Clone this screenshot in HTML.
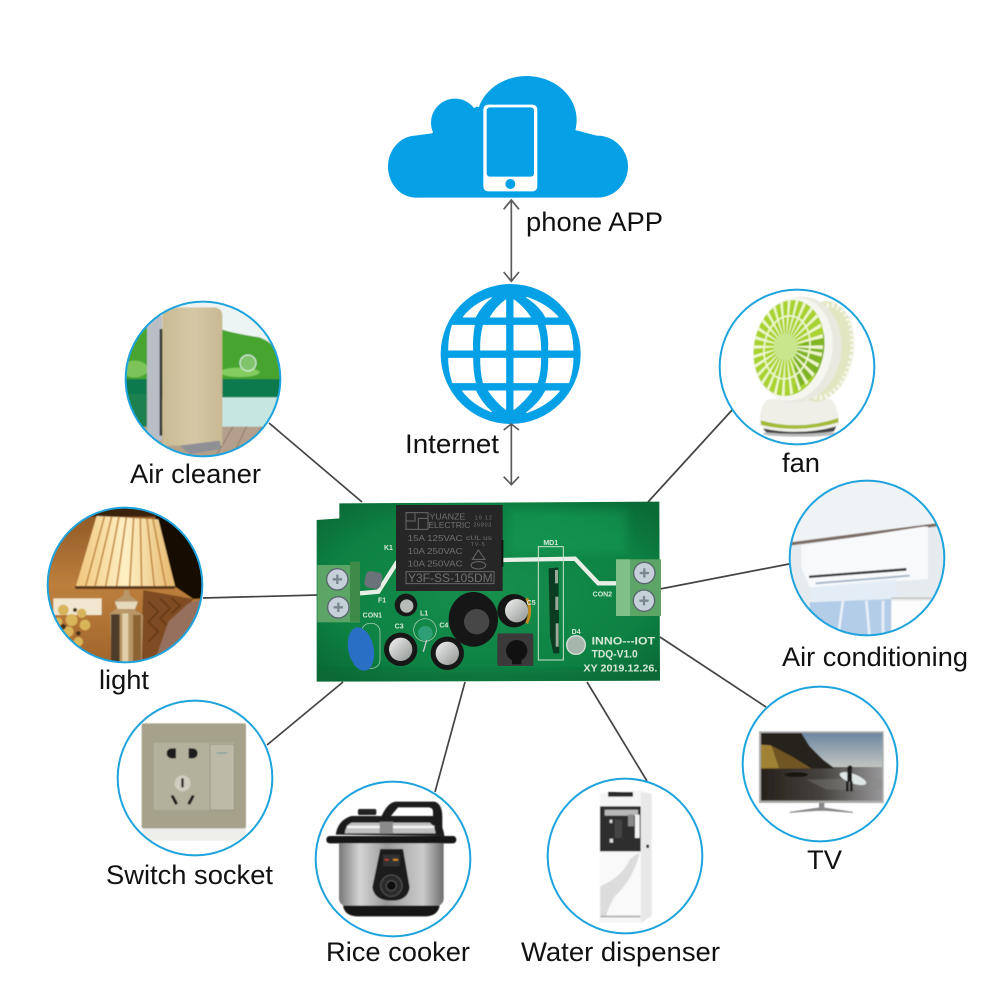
<!DOCTYPE html>
<html><head><meta charset="utf-8"><style>
html,body{margin:0;padding:0;background:#fff}
svg{display:block}
text{font-family:"Liberation Sans",sans-serif}
.l{font-size:27px;fill:#111}
.pt{font-family:"Liberation Mono",monospace;font-weight:bold;fill:#d8e8d8}
</style></head><body>
<svg width="1000" height="1000" viewBox="0 0 1000 1000" xmlns="http://www.w3.org/2000/svg">
<defs>
<filter id="soft" x="-5%" y="-5%" width="110%" height="110%"><feGaussianBlur stdDeviation="1.8"/></filter>
<filter id="soft2" x="-20%" y="-20%" width="140%" height="140%"><feGaussianBlur stdDeviation="14"/></filter>
<clipPath id="c"><circle cx="0" cy="0" r="232"/></clipPath>
<clipPath id="pcbclip"><polygon points="88,40 1048,35 1050,572 20,575 20,90 88,85"/></clipPath>
<clipPath id="fanclip"><ellipse cx="238" cy="205" rx="105" ry="145" transform="rotate(10 238 205)"/></clipPath>
<linearGradient id="gold" x1="0" x2="1" y1="0" y2="0"><stop offset="0" stop-color="#c9ba94"/><stop offset=".5" stop-color="#d6c8a6"/><stop offset="1" stop-color="#c8b993"/></linearGradient>
<linearGradient id="silver" x1="0" x2="1" y1="0" y2="0"><stop offset="0" stop-color="#777"/><stop offset=".2" stop-color="#d4d4d4"/><stop offset=".45" stop-color="#9a9a9a"/><stop offset=".8" stop-color="#cccccc"/><stop offset="1" stop-color="#6d6d6d"/></linearGradient>
<linearGradient id="sky" x1="0" x2="0" y1="0" y2="1"><stop offset="0" stop-color="#6c86a0"/><stop offset=".6" stop-color="#d2d2c8"/><stop offset="1" stop-color="#efd9b0"/></linearGradient>
<linearGradient id="beach" x1="0" x2="1" y1="0" y2="0"><stop offset="0" stop-color="#26211b"/><stop offset=".5" stop-color="#46433e"/><stop offset="1" stop-color="#98979a"/></linearGradient>
<linearGradient id="shade" x1="0" x2="1" y1="0" y2="0"><stop offset="0" stop-color="#f0c67c"/><stop offset=".5" stop-color="#fff0c4"/><stop offset="1" stop-color="#e6b86e"/></linearGradient>
<linearGradient id="wall" x1="0" x2="0" y1="0" y2="1"><stop offset="0" stop-color="#8a5524"/><stop offset=".5" stop-color="#bd7f3c"/><stop offset="1" stop-color="#a0652c"/></linearGradient>
<linearGradient id="cap" x1="0" x2="1" y1="0" y2="1"><stop offset="0" stop-color="#f2f2f2"/><stop offset="1" stop-color="#8f9490"/></linearGradient>
<radialGradient id="pcbg" cx=".5" cy=".5" r=".65"><stop offset="0" stop-color="#178f4d"/><stop offset=".7" stop-color="#0d8243"/><stop offset="1" stop-color="#0a6b37"/></radialGradient>
</defs>

<!-- connectors -->
<g stroke="#444" stroke-width="1.7" fill="none">
<line x1="269" y1="423" x2="362" y2="502"/>
<line x1="203" y1="598" x2="318" y2="595"/>
<line x1="733" y1="409" x2="648" y2="502"/>
<line x1="789" y1="564" x2="660" y2="589"/>
<line x1="267" y1="745" x2="343" y2="682"/>
<line x1="435" y1="792" x2="465" y2="682"/>
<line x1="647" y1="781" x2="587" y2="682"/>
<line x1="766" y1="707" x2="660" y2="637"/>
</g>

<!-- cloud + globe + arrows -->
<g transform="translate(380,70) scale(.33333)">
 <g fill="#06a0e6">
  <ellipse cx="108" cy="290" rx="84" ry="93"/><ellipse cx="652" cy="290" rx="92" ry="93"/>
  <circle cx="225" cy="158" r="72"/><ellipse cx="440" cy="150" rx="150" ry="132"/>
  <polygon points="105,197 155,190 290,110 585,180 650,197 650,383 105,383"/>
 </g>
 <rect x="310" y="104" width="162" height="260" rx="14" fill="#fff"/>
 <rect x="320" y="112" width="142" height="208" rx="10" fill="#06a0e6"/>
 <circle cx="391" cy="342" r="15" fill="#06a0e6"/>
 <circle cx="392" cy="852" r="210" fill="#06a0e6"/>
 <g fill="#fff" stroke="#fff" stroke-width="3" stroke-linejoin="round">
  <path d="M250,741 Q280,702 334,683 Q303,708 286,741 Z"/>
  <path d="M331,741 Q350,710 377,690 V741 Z"/>
  <path d="M402,741 V690 Q430,710 451,741 Z"/>
  <path d="M497,741 Q480,708 440,682 Q500,702 534,741 Z"/>
  <path d="M217,766 H283 Q276,802 278,840 H206 Q206,800 217,766 Z"/>
  <path d="M310,766 H377 V840 H302 Q301,800 310,766 Z"/>
  <path d="M402,766 H472 Q482,800 482,840 H402 Z"/>
  <path d="M498,766 H566 Q578,800 579,840 H506 Q508,800 498,766 Z"/>
  <path d="M206,865 H278 Q278,905 286,938 H218 Q206,900 206,865 Z"/>
  <path d="M302,865 H377 V938 H310 Q302,905 302,865 Z"/>
  <path d="M402,865 H482 Q482,905 472,938 H402 Z"/>
  <path d="M506,865 H579 Q578,905 566,938 H498 Q507,905 506,865 Z"/>
  <path d="M248,963 H287 Q305,1000 334,1025 Q280,1005 248,963 Z"/>
  <path d="M326,963 H377 V1018 Q348,995 326,963 Z"/>
  <path d="M402,963 H455 Q432,995 402,1018 Z"/>
  <path d="M497,963 H538 Q505,1005 440,1028 Q478,1000 497,963 Z"/>
 </g>
 <g stroke="#5a5a5a" stroke-width="5" fill="none">
  <line x1="394" y1="390" x2="394" y2="634"/>
  <polyline points="371,418 394,390 417,418"/>
  <polyline points="371,606 394,634 417,606"/>
  <line x1="394" y1="1062" x2="394" y2="1244"/>
  <polyline points="371,1080 394,1062 417,1080"/>
  <polyline points="371,1220 394,1244 417,1220"/>
 </g>
</g>

<!-- Air cleaner -->
<g transform="translate(203,379) scale(.33333)"><g clip-path="url(#c)"><g filter="url(#soft)">
 <rect x="-240" y="-240" width="480" height="480" fill="#edf5f4"/>
 <path d="M-240,-130 Q-170,-170 -120,-150 L50,-150 Q100,-135 170,-125 Q220,-105 240,-60 V10 H-240 Z" fill="#46a42e"/>
 <ellipse cx="110" cy="-20" rx="60" ry="14" fill="#84cc60"/>
 <ellipse cx="-205" cy="-30" rx="40" ry="25" fill="#7cc45a"/>
 <rect x="-240" y="0" width="480" height="60" fill="#0f7a4e"/>
 <rect x="50" y="55" width="200" height="90" fill="#c6e6e2"/>
 <rect x="-240" y="45" width="80" height="100" fill="#1e8050"/>
 <rect x="-240" y="143" width="480" height="100" fill="#b4a08a"/>
 <g stroke="#8c7866" stroke-width="3"><line x1="90" y1="143" x2="40" y2="230"/><line x1="130" y1="143" x2="90" y2="230"/><line x1="175" y1="143" x2="140" y2="230"/></g>
 <circle cx="135" cy="-48" r="24" fill="#7fc46a" stroke="#dff0e8" stroke-width="3"/>
 <rect x="-168" y="-190" width="45" height="375" fill="#b9bdc5"/>
 <rect x="-130" y="-150" width="8" height="320" fill="#333"/>
 <path d="M-122,-215 H35 Q58,-212 58,-190 V200 H-122 Z" fill="url(#gold)"/>
 <polygon points="-70,200 50,185 55,210 -40,225" fill="#8e9096"/>
</g></g><circle r="232" fill="none" stroke="#1ea3dc" stroke-width="6"/></g>

<!-- Light -->
<g transform="translate(125,585) scale(.33333)"><g clip-path="url(#c)"><g filter="url(#soft)">
 <rect x="-240" y="-240" width="480" height="480" fill="url(#wall)"/>
 <polygon points="-170,-240 240,-240 240,-205 -170,-205" fill="#3a2210"/>
 <polygon points="95,-240 240,-240 240,40 205,42 150,5 90,-190" fill="#170c06"/>
 <polygon points="55,15 205,42 170,90 85,225 45,240" fill="#7e4c22"/>
 <g stroke="#5f3614" stroke-width="4" fill="none"><path d="M70,50 L100,80 L70,110 L100,140 L70,170 M105,40 L135,70 L105,100 L130,125 M140,40 L165,62 L140,85"/></g>
 <polygon points="-85,-207 100,-197 150,3 -147,3" fill="url(#shade)"/>
 <g stroke="#c68f47" stroke-width="5">
  <line x1="-62" y1="-205" x2="-118" y2="3"/><line x1="-40" y1="-205" x2="-90" y2="3"/><line x1="-18" y1="-205" x2="-58" y2="3"/>
  <line x1="4" y1="-203" x2="-25" y2="3"/><line x1="26" y1="-202" x2="14" y2="3"/><line x1="46" y1="-201" x2="50" y2="3"/>
  <line x1="66" y1="-200" x2="88" y2="3"/><line x1="84" y1="-198" x2="122" y2="3"/>
 </g>
 <rect x="-150" y="3" width="300" height="9" fill="#5d3a1a"/>
 <rect x="-215" y="40" width="145" height="50" fill="#f2e6cf"/>
 <g fill="#d8b45a"><circle cx="-185" cy="75" r="16"/><circle cx="-160" cy="105" r="18"/><circle cx="-130" cy="85" r="14"/><circle cx="-120" cy="120" r="16"/><circle cx="-170" cy="140" r="16"/><circle cx="-140" cy="170" r="14"/><circle cx="-200" cy="110" r="12"/></g>
 <g fill="#4a3018"><circle cx="-150" cy="75" r="6"/><circle cx="-185" cy="125" r="8"/><circle cx="-140" cy="145" r="7"/></g>
 <polygon points="-2,15 12,15 14,30 40,50 30,75 54,90 50,240 -40,240 -45,85 -25,70 -32,50 -4,30" fill="#b89668"/>
 <polygon points="-30,50 38,50 30,72 -22,72" fill="#e6d8ba"/>
 <rect x="-42" y="88" width="26" height="150" fill="#4f3b2a"/>
 <rect x="-8" y="85" width="18" height="155" fill="#e0cfa8"/>
 <rect x="24" y="90" width="24" height="150" fill="#8c6436"/>
 <polygon points="85,240 130,110 190,55 240,40 240,240" fill="#96705c"/>
</g></g><circle r="232" fill="none" stroke="#1ea3dc" stroke-width="6"/></g>

<!-- Fan -->
<g transform="translate(797,367) scale(.33333)"><g clip-path="url(#c)"><rect x="-240" y="-240" width="480" height="480" fill="#fff"/><g filter="url(#soft)" transform="translate(-262,-262)">
 <ellipse cx="270" cy="462" rx="110" ry="9" fill="#bbb"/>
 <path d="M150,430 Q150,375 175,358 H365 Q388,390 388,430 Q388,458 270,460 Q150,458 150,430 Z" fill="#efefe8"/>
 <path d="M153,422 Q270,455 386,415 L386,428 Q270,462 155,436 Z" fill="#a3bb34"/>
 <path d="M160,446 Q270,470 380,440 L372,455 Q270,468 170,458 Z" fill="#444"/>
 <ellipse cx="335" cy="215" rx="95" ry="152" fill="#e2e6c2" transform="rotate(10 335 215)"/>
 <ellipse cx="345" cy="215" rx="82" ry="140" fill="none" stroke="#f6f7ea" stroke-width="14" stroke-dasharray="8 8" transform="rotate(10 345 215)"/>
 <ellipse cx="265" cy="210" rx="130" ry="160" fill="#e9e9e0" transform="rotate(10 265 210)"/>
 <ellipse cx="250" cy="208" rx="118" ry="156" fill="#f6f6f0" transform="rotate(10 250 208)"/>
 <ellipse cx="238" cy="205" rx="105" ry="145" fill="#a9d22f" transform="rotate(10 238 205)"/>
 <g clip-path="url(#fanclip)">
  <path d="M250,205 L345,160 L345,260 L260,330 Z" fill="#7fb423"/>
  <g transform="translate(228,200) rotate(10) scale(.74,1)">
   <circle r="75" fill="none" stroke="#eef7cc" stroke-width="150" stroke-dasharray="6 11"/>
  </g>
  <ellipse cx="232" cy="203" rx="68" ry="95" fill="none" stroke="#eef7cc" stroke-width="5" transform="rotate(10 232 203)"/>
 </g>
 <ellipse cx="228" cy="202" rx="36" ry="40" fill="#c8e68c"/>
</g></g><circle r="232" fill="none" stroke="#1ea3dc" stroke-width="6"/></g>

<!-- AC -->
<g transform="translate(867,558) scale(.33333)"><g clip-path="url(#c)"><g filter="url(#soft)" transform="translate(-472,-832)">
 <rect x="230" y="590" width="490" height="490" fill="#e6ebf0"/>
 <polygon points="230,790 720,725 720,590 230,590" fill="#f0f3f6"/>
 <polygon points="240,785 700,725 700,735 240,795" fill="#7d6e66"/>
 <path d="M275,795 L640,738 H655 V895 L300,920 L275,860 Z" fill="#f8f9fb"/>
 <polygon points="298,885 590,862 590,870 298,892" fill="#3a3a3a"/>
 <polygon points="318,905 600,882 600,888 318,911" fill="#a8b8c8"/>
 <polygon points="300,920 560,895 570,1000 320,1000" fill="#e4edf6" opacity=".8"/>
 <path d="M300,965 L545,955 L545,1070 H300 Z" fill="#b3cde8"/>
 <g stroke="#e8f0f9" stroke-width="8"><line x1="400" y1="960" x2="385" y2="1070"/><line x1="470" y1="960" x2="480" y2="1070"/><line x1="520" y1="960" x2="520" y2="1070"/></g>
 <rect x="545" y="960" width="160" height="110" fill="#fdfdfd"/>
 <rect x="545" y="950" width="120" height="5" fill="#c9c4ba"/>
</g></g><circle r="232" fill="none" stroke="#1ea3dc" stroke-width="6"/></g>

<!-- Switch -->
<g transform="translate(195,778) scale(.33333)"><g clip-path="url(#c)"><rect x="-240" y="-240" width="480" height="480" fill="#fff"/><g filter="url(#soft)" transform="translate(-257,-264)">
 <rect x="100" y="412" width="310" height="40" fill="#eeeeea"/>
 <rect x="97" y="100" width="313" height="315" rx="5" fill="#a6a18a"/>
 <rect x="133" y="158" width="242" height="202" fill="#b3b09b"/>
 <rect x="302" y="163" width="73" height="197" fill="#bdbaa7" stroke="#8f8c7a" stroke-width="2"/>
 <rect x="322" y="187" width="32" height="4" fill="#7fa0a0"/>
 <circle cx="220" cy="280" r="24" fill="#cfcdbd"/>
 <g fill="#1b1b1b">
  <path d="M200,175 H186 A14,15 0 0,0 186,205 H200 Z"/><path d="M238,175 H250 A15,15 0 0,1 250,205 H238 Z"/>
  <rect x="216" y="265" width="7" height="27"/>
  <polygon points="184,318 192,315 206,340 198,345"/><polygon points="256,318 248,315 234,340 242,345"/>
 </g>
</g></g><circle r="232" fill="none" stroke="#1ea3dc" stroke-width="6"/></g>

<!-- Rice cooker -->
<g transform="translate(393,859) scale(.33333)"><g clip-path="url(#c)"><rect x="-240" y="-240" width="480" height="480" fill="#fff"/><g filter="url(#soft)" transform="translate(-850,-505)">
 <path d="M815,378 Q835,333 860,333 H975 Q998,340 998,380 V410 H970 V362 Q970,350 955,350 H865 L842,378 Z" fill="#1a1a1a"/>
 <rect x="745" y="355" width="55" height="18" rx="5" fill="#222"/>
 <path d="M678,432 Q685,388 725,376 H975 Q1000,400 1004,436 Z" fill="#1d1d1d"/>
 <path d="M705,428 Q708,405 725,396 H960 Q975,405 978,428 Z" fill="#bfc0c0"/><rect x="712" y="405" width="262" height="8" fill="#f2f2f2"/><rect x="810" y="393" width="40" height="36" fill="#8a8a8a"/>
 <rect x="650" y="436" width="390" height="22" rx="10" fill="#141414"/>
 <path d="M688,458 H1002 V625 Q1000,650 960,650 H730 Q690,650 688,625 Z" fill="url(#silver)"/>
 <path d="M700,645 H990 Q985,675 950,677 H740 Q705,675 700,645 Z" fill="#151515"/>
 <path d="M812,475 H880 L900,590 Q895,630 845,630 Q795,630 788,590 Z" fill="#1b1b1b"/>
 <circle cx="845" cy="585" r="32" fill="#2c2c2c" stroke="#555" stroke-width="3"/><circle cx="845" cy="585" r="15" fill="#111" stroke="#666" stroke-width="2"/>
 <rect x="820" y="492" width="50" height="35" fill="#333"/>
 <rect x="850" y="505" width="15" height="5" fill="#e09020"/><rect x="825" y="505" width="12" height="5" fill="#c04030"/>
</g></g><circle r="232" fill="none" stroke="#1ea3dc" stroke-width="6"/></g>

<!-- Water dispenser -->
<g transform="translate(625,856) scale(.33333)"><g clip-path="url(#c)"><rect x="-240" y="-240" width="480" height="480" fill="#fff"/><g filter="url(#soft)" transform="translate(-256,-529)">
 <polygon points="180,340 310,332 336,340 336,705 304,730 180,730" fill="#f6f6f6"/>
 <polygon points="304,338 336,342 336,708 304,730" fill="#e8e8e8"/>
 <rect x="205" y="337" width="75" height="14" fill="#2c2c2c"/>
 <rect x="181" y="380" width="122" height="135" fill="#2e2e2e"/>
 <rect x="195" y="390" width="100" height="18" fill="#b8b8b8"/>
 <rect x="265" y="405" width="18" height="35" fill="#888"/>
 <rect x="286" y="405" width="14" height="70" fill="#f2f2f2"/>
 <rect x="225" y="420" width="22" height="55" fill="#444"/>
 <rect x="210" y="420" width="8" height="10" fill="#ddd"/><rect x="210" y="477" width="10" height="12" fill="#ddd"/>
 <path d="M180,520 H303 V710 H180 Z" fill="#f9f9f9"/>
 <path d="M182,620 Q250,590 270,540 Q285,525 300,520 Q280,600 225,650 Q205,685 200,708 H182 Z" fill="#dcdcdc"/>
 <rect x="182" y="708" width="120" height="5" fill="#aaa"/>
 <rect x="320" y="495" width="8" height="10" fill="#333"/>
</g></g><circle r="232" fill="none" stroke="#1ea3dc" stroke-width="6"/></g>

<!-- TV -->
<g transform="translate(820,764) scale(.33333)"><g clip-path="url(#c)"><rect x="-240" y="-240" width="480" height="480" fill="#fff"/><g filter="url(#soft)" transform="translate(-841,-253)">
 <rect x="658" y="155" width="374" height="215" fill="#aaaaaa"/>
 <rect x="664" y="160" width="364" height="203" fill="url(#sky)"/>
 <rect x="664" y="262" width="364" height="101" fill="url(#beach)"/>
 <polygon points="800,300 1028,295 1028,330 860,330" fill="#8a8a86" opacity=".35"/>
 <polygon points="664,160 785,160 810,200 850,240 885,266 664,268" fill="#26241a"/>
 <polygon points="664,195 700,200 760,232 815,266 664,268" fill="#6e5524"/>
 <polygon points="664,195 695,197 718,265 664,265" fill="#a08236"/>
 <ellipse cx="770" cy="285" rx="35" ry="7" fill="#161310"/>
 <ellipse cx="940" cy="297" rx="42" ry="14" fill="#dfe6e6" transform="rotate(20 940 297)"/>
 <rect x="923" y="262" width="14" height="45" fill="#1a1a1a"/><circle cx="931" cy="264" r="7" fill="#1a1a1a"/>
 <rect x="919" y="305" width="8" height="30" fill="#1a1a1a"/><rect x="931" y="305" width="8" height="30" fill="#1a1a1a"/>
 <rect x="838" y="370" width="16" height="18" fill="#888"/>
 <polygon points="750,398 845,384 940,398 860,392 830,392" fill="#888" stroke="#888" stroke-width="3"/>
</g></g><circle r="232" fill="none" stroke="#1ea3dc" stroke-width="6"/></g>

<!-- PCB -->
<g transform="translate(310,490) scale(.33333)">
 <polygon points="88,40 1048,35 1050,572 20,575 20,90 88,85" fill="url(#pcbg)"/>
 <g clip-path="url(#pcbclip)"><rect x="600" y="60" width="350" height="130" fill="#18a259" opacity=".45" filter="url(#soft2)"/>
 <rect x="20" y="540" width="1030" height="40" fill="#0a6b37" opacity=".5" filter="url(#soft2)"/></g>
 <g fill="none" stroke="#e8efe6" stroke-width="13">
  <polyline points="150,310 205,305 262,215"/>
  <polyline points="575,210 795,206 865,280 930,280"/>
 </g>
 <!-- MD1 outline -->
 <rect x="685" y="170" width="75" height="340" fill="none" stroke="#cde3cf" stroke-width="3"/>
 <polygon points="716,235 745,232 748,490 730,490 720,440" fill="#0b3b20"/>
 <g fill="#9ba99a"><rect x="735" y="240" width="9" height="40"/><rect x="736" y="320" width="9" height="40"/><rect x="737" y="400" width="9" height="70"/></g>
 <!-- relay -->
 <rect x="258" y="45" width="320" height="258" fill="#262626"/>
 <rect x="574" y="150" width="6" height="80" fill="#111"/>
 <g fill="none" stroke="#6a6a6a" stroke-width="3">
  <rect x="288" y="68" width="66" height="50"/><path d="M288,93 H315 V68 M325,118 V85 H354"/>
  <rect x="288" y="245" width="264" height="36"/>
  <ellipse cx="505" cy="226" rx="22" ry="11"/><polygon points="505,180 525,208 487,208"/>
 </g>
 <g fill="#717171">
  <text x="358" y="88" font-size="26" textLength="108" lengthAdjust="spacingAndGlyphs">YUANZE</text>
  <text x="355" y="114" font-size="26" textLength="126" lengthAdjust="spacingAndGlyphs">ELECTRIC</text>
  <text x="494" y="88" font-size="17" textLength="52">19 12</text>
  <text x="490" y="110" font-size="17" textLength="54">26803</text>
  <text x="293" y="153" font-size="26" textLength="165" lengthAdjust="spacingAndGlyphs">15A 125VAC</text>
  <text x="293" y="192" font-size="26" textLength="165" lengthAdjust="spacingAndGlyphs">10A 250VAC</text>
  <text x="293" y="230" font-size="26" textLength="165" lengthAdjust="spacingAndGlyphs">10A 250VAC</text>
  <text x="468" y="150" font-size="20" textLength="78" lengthAdjust="spacingAndGlyphs">cUL us</text>
  <text x="482" y="168" font-size="16" textLength="42">TV-5</text>
  <text x="294" y="276" font-size="36" textLength="254" lengthAdjust="spacingAndGlyphs">Y3F-SS-105DM</text>
 </g>
 <!-- terminals -->
 <rect x="22" y="225" width="128" height="172" fill="#5da566"/><rect x="120" y="215" width="30" height="180" fill="#3d8a49"/>
 <rect x="918" y="208" width="135" height="170" fill="#5da566"/><rect x="918" y="208" width="42" height="170" fill="#80c086"/>
 <g fill="#c5d0d8" stroke="#59656e" stroke-width="4">
  <circle cx="82" cy="268" r="32"/><circle cx="85" cy="352" r="32"/>
  <circle cx="1003" cy="249" r="32"/><circle cx="1002" cy="332" r="32"/>
 </g>
 <g stroke="#7a868e" stroke-width="7"><path d="M68,268 H96 M82,254 V282 M71,352 H99 M85,338 V366 M989,249 H1017 M1003,235 V263 M988,332 H1016 M1002,318 V346"/></g>
 <!-- fuse -->
 <rect x="165" y="245" width="50" height="50" rx="14" fill="#6b7378" transform="rotate(10 190 270)"/>
 <!-- varistor -->
 <rect x="155" y="400" width="55" height="135" rx="25" fill="none" stroke="#bcd5bf" stroke-width="2"/>
 <ellipse cx="153" cy="477" rx="38" ry="66" fill="#2a6fc6" transform="rotate(-12 153 477)"/>
 <!-- caps -->
 <circle cx="272" cy="478" r="50" fill="#171717"/><circle cx="272" cy="478" r="35" fill="url(#cap)"/>
 <circle cx="412" cy="490" r="50" fill="#171717"/><circle cx="412" cy="490" r="35" fill="url(#cap)"/>
 <circle cx="288" cy="345" r="34" fill="#191919"/><circle cx="290" cy="348" r="20" fill="#b8bcb8"/>
 <circle cx="612" cy="362" r="50" fill="#151515"/><circle cx="620" cy="362" r="35" fill="url(#cap)"/>
 <path d="M650,325 Q668,360 650,400" stroke="#c08a22" stroke-width="9" fill="none"/>
 <!-- inductor -->
 <circle cx="345" cy="420" r="34" fill="none" stroke="#bcd5bf" stroke-width="2"/>
 <circle cx="346" cy="430" r="22" fill="#2f9f78"/>
 <path d="M350,450 L340,485" stroke="#ccc" stroke-width="4"/>
 <!-- big coil -->
 <ellipse cx="490" cy="388" rx="74" ry="82" fill="#161616"/><circle cx="500" cy="395" r="38" fill="#474747"/>
 <!-- button -->
 <rect x="562" y="430" width="108" height="98" rx="6" fill="#3a3a3a"/>
 <circle cx="620" cy="482" r="32" fill="#111"/>
 <rect x="606" y="485" width="28" height="38" fill="#111"/>
 <!-- led -->
 <circle cx="798" cy="465" r="28" fill="#a6b6ac" stroke="#d4ded6" stroke-width="4"/>
 <!-- silk -->
 <g class="pt">
  <text x="222" y="180" font-size="21">K1</text>
  <text x="700" y="165" font-size="21">MD1</text>
  <text x="848" y="320" font-size="21">CON2</text>
  <text x="158" y="382" font-size="21">CON1</text>
  <text x="204" y="338" font-size="21">F1</text>
  <text x="330" y="377" font-size="21">L1</text>
  <text x="254" y="416" font-size="21">C3</text>
  <text x="388" y="412" font-size="21">C4</text>
  <text x="650" y="345" font-size="21">C5</text>
  <text x="785" y="432" font-size="21">D4</text>
  <text x="845" y="463" font-size="34" textLength="190" lengthAdjust="spacingAndGlyphs">INNO---IOT</text>
  <text x="845" y="502" font-size="34" textLength="138" lengthAdjust="spacingAndGlyphs">TDQ-V1.0</text>
  <text x="820" y="544" font-size="31" textLength="222" lengthAdjust="spacingAndGlyphs">XY 2019.12.26.</text>
 </g>
</g>

<!-- labels -->
<g class="labels">
<text class="l" x="526" y="231" textLength="137" lengthAdjust="spacingAndGlyphs">phone APP</text>
<text class="l" x="405" y="453" textLength="94" lengthAdjust="spacingAndGlyphs">Internet</text>
<text class="l" x="130" y="483" textLength="131" lengthAdjust="spacingAndGlyphs">Air cleaner</text>
<text class="l" x="782" y="472" textLength="38" lengthAdjust="spacingAndGlyphs">fan</text>
<text class="l" x="782" y="666" textLength="186" lengthAdjust="spacingAndGlyphs">Air conditioning</text>
<text class="l" x="99" y="689" textLength="50" lengthAdjust="spacingAndGlyphs">light</text>
<text class="l" x="106" y="884" textLength="167" lengthAdjust="spacingAndGlyphs">Switch socket</text>
<text class="l" x="326" y="961" textLength="144" lengthAdjust="spacingAndGlyphs">Rice cooker</text>
<text class="l" x="521" y="961" textLength="199" lengthAdjust="spacingAndGlyphs">Water dispenser</text>
<text class="l" x="807" y="869" textLength="35" lengthAdjust="spacingAndGlyphs">TV</text>
</g>
</svg>
</body></html>
